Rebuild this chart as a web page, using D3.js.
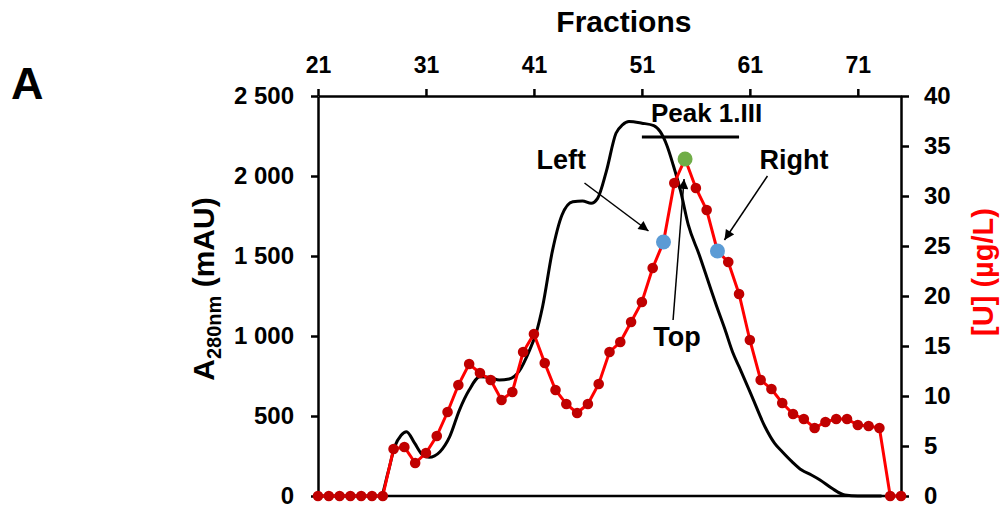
<!DOCTYPE html>
<html lang="en">
<head>
<meta charset="UTF-8">
<title>Fractions - A280 and [U]</title>
<script src="https://d3js.org/d3.v7.min.js"></script>
<style>
  body { margin: 0; background: #fff; }
  svg text { font-family: "Liberation Sans", Arial, sans-serif; font-weight: bold; fill: #000; }
  .axis path, .axis line { stroke: #000; stroke-width: 2.5; }
</style>
</head>
<body>
<script>
// fractions (secondary/top axis) and uranium concentration, µg/L
const fractions = [21,22,23,24,25,26,27,28,29,30,31,32,33,34,35,36,37,38,39,40,
  41,42,43,44,45,46,47,48,49,50,51,52,53,54,55,56,57,58,59,60,
  61,62,63,64,65,66,67,68,69,70,71,72,73,74,75];
const uranium = [0,0,0,0,0,0,0,4.7,4.9,3.3,4.3,6.0,8.4,11.1,13.2,12.3,11.6,9.6,10.4,14.4,
  16.2,13.3,10.6,9.2,8.3,9.2,11.2,14.4,15.4,17.4,19.4,22.8,25.4,31.3,33.7,30.8,28.6,24.5,23.4,20.2,
  15.6,11.6,10.7,9.3,8.2,7.7,6.8,7.4,7.7,7.7,7.1,7.0,6.8,0,0];

// A280 trace (mAU)
const uvFraction = [21,26.8,27.5,28.1,28.7,29.2,29.95,30.7,31.3,32.3,33.2,34.1,35.0,36.0,36.9,37.8,38.7,39.6,
  40.6,41.2,41.8,42.7,43.6,44.6,45.5,46.3,46.9,47.7,48.6,49.2,49.8,51.0,52.1,52.7,53.3,53.9,54.6,55.3,
  56.3,57.2,57.9,58.7,59.4,60.0,61.2,62.4,63.3,64.0,64.9,65.8,66.7,67.5,68.6,69.8,71.0,73.2];
const uvValue = [0,0,150,308,380,402,330,256,242,277,371,537,662,746,742,725,731,777,
  912,1017,1183,1527,1756,1839,1844,1829,1860,2027,2267,2319,2340,2330,2315,2277,2194,2069,1902,1694,
  1510,1330,1190,1040,900,808,621,433,329,277,215,162,131,100,48,6,0,0];

// highlighted peak fractions
const markerNames = ["Left", "Top", "Right"];
const markerFractions = [53, 55, 58];
const markerColors = ["#5B9BD5", "#70AD47", "#5B9BD5"];
const peakLabel = "Peak 1.III";
const peakRange = [51, 60];

const fractionTicks = [21, 31, 41, 51, 61, 71];
const uvTicks = [0, 500, 1000, 1500, 2000, 2500];
const uTicks = [0, 5, 10, 15, 20, 25, 30, 35, 40];

const width = 1004, height = 508;
const margin = {top: 96, right: 103, bottom: 12, left: 318};
const innerW = width - margin.left - margin.right;
const innerH = height - margin.top - margin.bottom;

const svg = d3.select("body").append("svg")
  .attr("width", width)
  .attr("height", height);

const g = svg.append("g").attr("transform", `translate(${margin.left},${margin.top})`);

const x = d3.scaleLinear().domain([21, 75]).range([0, innerW]);
const yL = d3.scaleLinear().domain([0, 2500]).range([innerH, 0]);
const yR = d3.scaleLinear().domain([0, 40]).range([innerH, 0]);

const fmt = d3.formatLocale({decimal: ".", thousands: " ", grouping: [3], currency: ["", ""]}).format(",");

// axes
const topAxis = g.append("g").attr("class", "axis")
  .call(d3.axisTop(x).tickValues(fractionTicks).tickSize(7).tickPadding(16).tickSizeOuter(0));
topAxis.selectAll("text").style("font-size", "23px");

const leftAxis = g.append("g").attr("class", "axis")
  .call(d3.axisLeft(yL).tickValues(uvTicks).tickFormat(fmt).tickSize(7).tickPadding(17).tickSizeOuter(0));
leftAxis.selectAll("text").style("font-size", "24px");

const rightAxis = g.append("g").attr("class", "axis")
  .attr("transform", `translate(${innerW},0)`)
  .call(d3.axisRight(yR).tickValues(uTicks).tickSize(8).tickPadding(15).tickSizeOuter(0));
rightAxis.selectAll("text").style("font-size", "24px");

g.append("line")
  .attr("x1", 0).attr("x2", innerW)
  .attr("y1", innerH).attr("y2", innerH)
  .attr("stroke", "#000").attr("stroke-width", 2.5);

// A280 trace
const uvLine = d3.line()
  .x((d, i) => x(uvFraction[i]))
  .y(d => yL(d))
  .curve(d3.curveMonotoneX);

g.append("path")
  .datum(uvValue)
  .attr("d", uvLine)
  .attr("fill", "none")
  .attr("stroke", "#000")
  .attr("stroke-width", 3);

// uranium series
const uLine = d3.line()
  .x((d, i) => x(fractions[i]))
  .y(d => yR(d));

g.append("path")
  .datum(uranium)
  .attr("d", uLine)
  .attr("fill", "none")
  .attr("stroke", "#FF0000")
  .attr("stroke-width", 3);

g.append("g").selectAll("circle")
  .data(uranium)
  .join("circle")
  .attr("cx", (d, i) => x(fractions[i]))
  .attr("cy", d => yR(d))
  .attr("r", 5.3)
  .attr("fill", "#C00000");

// highlighted points
const marks = markerFractions.map((f, i) => ({
  name: markerNames[i],
  color: markerColors[i],
  px: x(f),
  py: yR(uranium[fractions.indexOf(f)])
}));

g.append("g").selectAll("circle")
  .data(marks)
  .join("circle")
  .attr("cx", d => d.px)
  .attr("cy", d => d.py)
  .attr("r", 7.5)
  .attr("fill", d => d.color);

// peak bar + label
const barY = 41;
g.append("line")
  .attr("x1", x(peakRange[0])).attr("x2", x(peakRange[1]))
  .attr("y1", barY).attr("y2", barY)
  .attr("stroke", "#000").attr("stroke-width", 3);

g.append("text")
  .attr("x", x(peakRange[0]) + 9)
  .attr("y", barY - 15)
  .style("font-size", "26px")
  .text(peakLabel);

// arrows
svg.append("defs").append("marker")
  .attr("id", "head")
  .attr("viewBox", "0 -5 10 10")
  .attr("refX", 10).attr("refY", 0)
  .attr("markerWidth", 12).attr("markerHeight", 10)
  .attr("markerUnits", "userSpaceOnUse")
  .attr("orient", "auto")
  .append("path")
  .attr("d", "M0,-5L10,0L0,5Z")
  .attr("fill", "#000");

// offsets from each highlighted point: line start, arrow tip, label
const callouts = {
  Left:  {from: [-79, -59], to: [-15, -11], label: [-127, -73], anchor: "start"},
  Top:   {from: [-12, 161], to: [-1, 20],   label: [-8, 187],   anchor: "middle"},
  Right: {from: [50, -75],  to: [7, -11],   label: [42, -82],   anchor: "start"}
};

marks.forEach(m => {
  const c = callouts[m.name];
  g.append("line")
    .attr("x1", m.px + c.from[0]).attr("y1", m.py + c.from[1])
    .attr("x2", m.px + c.to[0]).attr("y2", m.py + c.to[1])
    .attr("stroke", "#000").attr("stroke-width", 1.5)
    .attr("marker-end", "url(#head)");
  g.append("text")
    .attr("x", m.px + c.label[0])
    .attr("y", m.py + c.label[1])
    .attr("text-anchor", c.anchor)
    .style("font-size", "27px")
    .text(m.name);
});

// titles
svg.append("text")
  .attr("x", margin.left + x(51) - 18)
  .attr("y", 32)
  .attr("text-anchor", "middle")
  .style("font-size", "30px")
  .text("Fractions");

svg.append("text")
  .attr("x", 11).attr("y", 99)
  .style("font-size", "45px")
  .text("A");

const yTitle = svg.append("text")
  .attr("transform", "translate(214,289) rotate(-90)")
  .attr("text-anchor", "middle")
  .style("font-size", "30px");
yTitle.append("tspan").text("A");
yTitle.append("tspan").attr("dy", 7).style("font-size", "20px").text("280nm");
yTitle.append("tspan").attr("dy", -7).text(" (mAU)");

svg.append("text")
  .attr("transform", "translate(993,272) rotate(-90)")
  .attr("text-anchor", "middle")
  .style("font-size", "29px")
  .style("fill", "#FF0000")
  .text("[U] (µg/L)");
</script>
</body>
</html>
